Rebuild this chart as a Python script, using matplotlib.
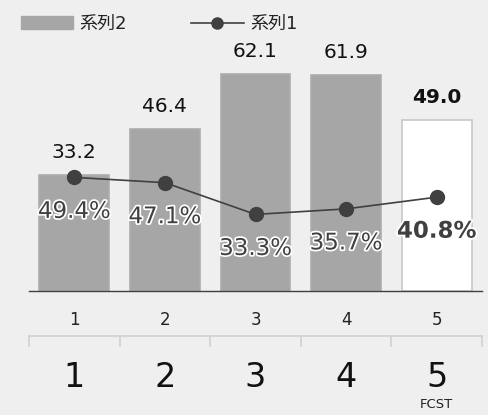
import matplotlib
matplotlib.use('Agg')
import matplotlib.pyplot as plt
import matplotlib.patheffects as pe
from matplotlib.patches import Patch
from matplotlib.lines import Line2D
from matplotlib.transforms import blended_transform_factory

plt.rcParams['font.family'] = ['DejaVu Sans', 'Noto Sans CJK JP']

categories = ['1', '2', '3', '4', '5']
big_labels = ['1', '2', '3', '4', '5']
series2 = [33.2, 46.4, 62.1, 61.9, 49.0]      # bars
series1 = [49.4, 47.1, 33.3, 35.7, 40.8]      # line, percent
forecast = [False, False, False, False, True]

BG = '#efefef'
BAR = '#a6a6a6'
DARK = '#404040'
LIGHT = '#d0d0d0'


def main():
    fig = plt.figure(figsize=(4.88, 4.15), dpi=100, facecolor=BG)
    # axes: 29..482 px wide, baseline at y=291 px
    ax = fig.add_axes([29 / 488, 124 / 415, 453 / 488, 291 / 415])
    ax.set_facecolor(BG)
    ax2 = ax.twinx()

    x = list(range(len(categories)))
    colors = ['white' if f else BAR for f in forecast]
    edges = ['#c8c8c8' if f else '#adadad' for f in forecast]
    ax.bar(x, series2, width=0.77, color=colors, edgecolor=edges, linewidth=1.2, zorder=2)

    ax.set_xlim(-0.5, 4.5)
    ax.set_ylim(0, 291 / 3.49)
    ax2.set_ylim(0, 291 / 2.3)

    ax2.plot(x, series1, color=DARK, linewidth=1.2, marker='o', markersize=10,
             markerfacecolor=DARK, markeredgecolor=DARK, zorder=3)

    for i, v in enumerate(series2):
        ax.annotate(f'{v:.1f}', (i, v), xytext=(0, 16.5), textcoords='offset points',
                    ha='center', va='center', fontsize=14.5, color='#111111',
                    fontweight='bold' if forecast[i] else 'normal')

    for i, v in enumerate(series1):
        ax2.annotate(f'{v:.1f}%', (i, v), xytext=(0, -24.5), textcoords='offset points',
                     ha='center', va='center', fontsize=16.5, color=DARK,
                     fontweight='bold' if forecast[i] else 'normal',
                     path_effects=[pe.withStroke(linewidth=2.5, foreground='white')])

    for a in (ax, ax2):
        for s in ('top', 'left', 'right'):
            a.spines[s].set_visible(False)
        a.set_yticks([])
        a.tick_params(left=False, right=False, bottom=False, labelbottom=False)
    ax.spines['bottom'].set_color(DARK)
    ax.spines['bottom'].set_linewidth(1)
    ax2.spines['bottom'].set_visible(False)

    # below-axis labels and bracket
    trans = blended_transform_factory(ax.transData, ax.transAxes)
    for i, c in enumerate(categories):
        ax.text(i, -29 / 291, c, transform=trans, ha='center', va='center',
                fontsize=12, color='#222222')
        ax.text(i, -86 / 291, big_labels[i], transform=trans, ha='center', va='center',
                fontsize=24, color='#111111')
    ax.text(4, -107 / 291, 'FCST', transform=trans, ha='center', va='top',
            fontsize=9.5, color='#222222')
    yb = -45 / 291
    ax.plot([-0.5, 4.5], [yb, yb], transform=trans, color=LIGHT, lw=1.2, clip_on=False)
    for t in [-0.5, 0.5, 1.5, 2.5, 3.5, 4.5]:
        ax.plot([t, t], [yb, -55 / 291], transform=trans, color=LIGHT, lw=1.2, clip_on=False)

    handles = [Patch(facecolor=BAR, edgecolor=BAR),
               Line2D([0], [0], color=DARK, lw=1.2, marker='o', markersize=8)]
    fig.legend(handles, ['系列2', '系列1'], loc='upper left', bbox_to_anchor=(21 / 488, 1 - 15 / 415),
               ncol=2, frameon=False, fontsize=13, handlelength=2.9, handleheight=0.7,
               handletextpad=0.35, columnspacing=3.55, borderpad=0, borderaxespad=0,
               labelcolor='#222222')

    fig.savefig('out.png', dpi=100, facecolor=BG)


if __name__ == '__main__':
    main()
